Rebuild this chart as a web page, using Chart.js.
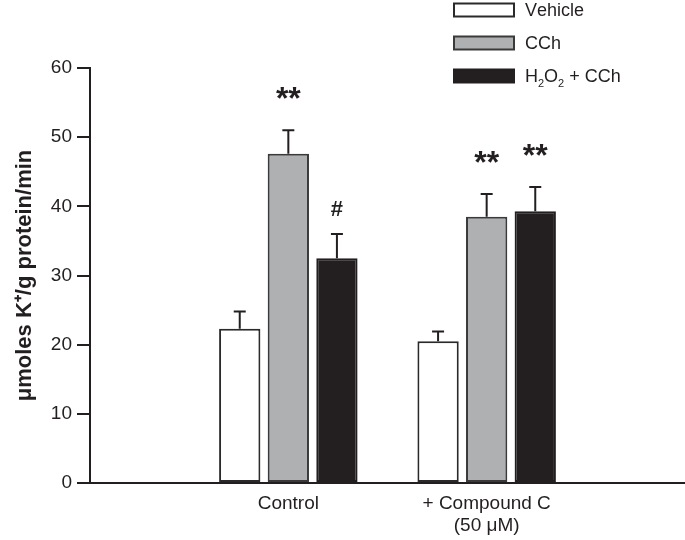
<!DOCTYPE html>
<html>
<head>
<meta charset="utf-8">
<script src="https://cdn.jsdelivr.net/npm/chart.js@4"></script>
<style>
  html, body { margin: 0; padding: 0; background: #ffffff; }
  #wrap { width: 685px; height: 540px; position: relative; }
</style>
</head>
<body>
<div id="wrap"><canvas id="c" width="685" height="540"></canvas></div>
<script>
// ---- data ----
const categories = ['Control', ['+ Compound C', '(50 \u03BCM)']];
const seriesLabels = ['Vehicle', 'CCh', 'H\u2082O\u2082 + CCh'];
const vehicle = [22.3, 20.5];
const cch = [47.6, 38.5];
const h2o2cch = [32.5, 39.3];
const vehicleErr = [2.5, 1.4];
const cchErr = [3.4, 3.3];
const h2o2cchErr = [3.5, 3.5];
const vehicleSig = ['', ''];
const cchSig = ['**', '**'];
const h2o2cchSig = ['#', '**'];
const yTicks = [0, 10, 20, 30, 40, 50, 60];
const yTitle = '\u03BCmoles K\u207A/g protein/min';

// padding categories so groups sit at 1/3 and 2/3 of the axis
const pad = arr => [null].concat(arr, [null]);
const labels = [''].concat(categories, ['']);

const INK = '#231f20';
const FONT = '"Liberation Sans", Arial, Helvetica, sans-serif';

const errorBars = {
  id: 'errorBars',
  afterDatasetsDraw(chart) {
    const ctx = chart.ctx;
    const y = chart.scales.y;
    ctx.save();
    chart.data.datasets.forEach((ds, di) => {
      const meta = chart.getDatasetMeta(di);
      meta.data.forEach((bar, i) => {
        const v = ds.data[i];
        if (v == null) return;
        const e = ds.errors[i];
        const yTop = y.getPixelForValue(v + e);
        const yBar = y.getPixelForValue(v);
        ctx.strokeStyle = INK;
        ctx.lineWidth = 2;
        ctx.beginPath();
        ctx.moveTo(bar.x, yBar);
        ctx.lineTo(bar.x, yTop);
        ctx.moveTo(bar.x - 6, yTop);
        ctx.lineTo(bar.x + 6, yTop);
        ctx.stroke();
        const s = ds.sig[i];
        if (s) {
          ctx.fillStyle = INK;
          ctx.textAlign = 'center';
          ctx.textBaseline = 'middle';
          if (s === '#') {
            ctx.font = 'bold 22px ' + FONT;
            ctx.fillText(s, bar.x, yTop - 24);
          } else {
            ctx.font = 'bold 32px ' + FONT;
            ctx.fillText(s, bar.x, yTop - 30);
          }
        }
      });
    });
    ctx.restore();
  }
};

function drawRich(ctx, text, x, yMid, size) {
  // draws text, rendering subscript digits (U+2080..2089) small and lowered
  let cx = x;
  for (const ch of text) {
    const code = ch.codePointAt(0);
    if (code >= 0x2080 && code <= 0x2089) {
      ctx.font = Math.round(size * 0.62) + 'px ' + FONT;
      const d = String(code - 0x2080);
      ctx.fillText(d, cx, yMid + size * 0.38);
      cx += ctx.measureText(d).width;
    } else {
      ctx.font = size + 'px ' + FONT;
      ctx.fillText(ch, cx, yMid);
      cx += ctx.measureText(ch).width;
    }
  }
}

const legendPlugin = {
  id: 'customLegend',
  afterDraw(chart) {
    const ctx = chart.ctx;
    ctx.save();
    const x0 = 454, w = 60, h = 13;
    const ys = [10, 43, 76];
    chart.data.datasets.forEach((ds, i) => {
      const yc = ys[i];
      ctx.fillStyle = ds.backgroundColor;
      ctx.fillRect(x0, yc - h / 2, w, h);
      ctx.strokeStyle = ds.borderColor;
      ctx.lineWidth = 2;
      ctx.strokeRect(x0, yc - h / 2, w, h);
      ctx.fillStyle = INK;
      ctx.textAlign = 'left';
      ctx.textBaseline = 'middle';
      drawRich(ctx, ds.label, 525, yc + 1, 18);
    });
    ctx.restore();
  }
};

new Chart(document.getElementById('c'), {
  type: 'bar',
  data: {
    labels: labels,
    datasets: [
      { label: seriesLabels[0], data: pad(vehicle), errors: pad(vehicleErr), sig: pad(vehicleSig),
        backgroundColor: '#ffffff', borderColor: '#2b2a2a', borderWidth: 2, borderSkipped: false },
      { label: seriesLabels[1], data: pad(cch), errors: pad(cchErr), sig: pad(cchSig),
        backgroundColor: '#afb0b2', borderColor: '#3b3a3b', borderWidth: 2, borderSkipped: false },
      { label: seriesLabels[2], data: pad(h2o2cch), errors: pad(h2o2cchErr), sig: pad(h2o2cchSig),
        backgroundColor: '#231f20', borderColor: '#231f20', borderWidth: 2, borderSkipped: false }
    ]
  },
  options: {
    responsive: false,
    animation: false,
    devicePixelRatio: 1,
    categoryPercentage: 0.735,
    barPercentage: 0.85,
    layout: { padding: { top: 68, right: 0, left: 0, bottom: 0 } },
    plugins: {
      legend: { display: false },
      tooltip: { enabled: false },
      title: { display: false }
    },
    scales: {
      x: {
        type: 'category',
        offset: false,
        grid: { display: false, drawTicks: false },
        border: { display: true, color: INK, width: 2 },
        ticks: { color: INK, font: { family: FONT, size: 19 }, padding: 9, maxRotation: 0, autoSkip: false },
        afterFit(scale) { scale.height = 57; scale.paddingRight = 0; scale.paddingLeft = 0; }
      },
      y: {
        min: 0, max: 60,
        afterBuildTicks(scale) { scale.ticks = yTicks.map(v => ({ value: v })); },
        grid: { drawOnChartArea: false, drawTicks: true, tickLength: 13, color: INK, lineWidth: 2 },
        border: { display: true, color: INK, width: 2 },
        ticks: { color: INK, font: { family: FONT, size: 19 }, padding: 5 },
        title: { display: true, text: yTitle, color: INK, font: { family: FONT, size: 22, weight: 'bold' }, padding: { top: 12, bottom: 0 } },
        afterFit(scale) { scale.width = 90; }
      }
    }
  },
  plugins: [errorBars, legendPlugin]
});
</script>
</body>
</html>
